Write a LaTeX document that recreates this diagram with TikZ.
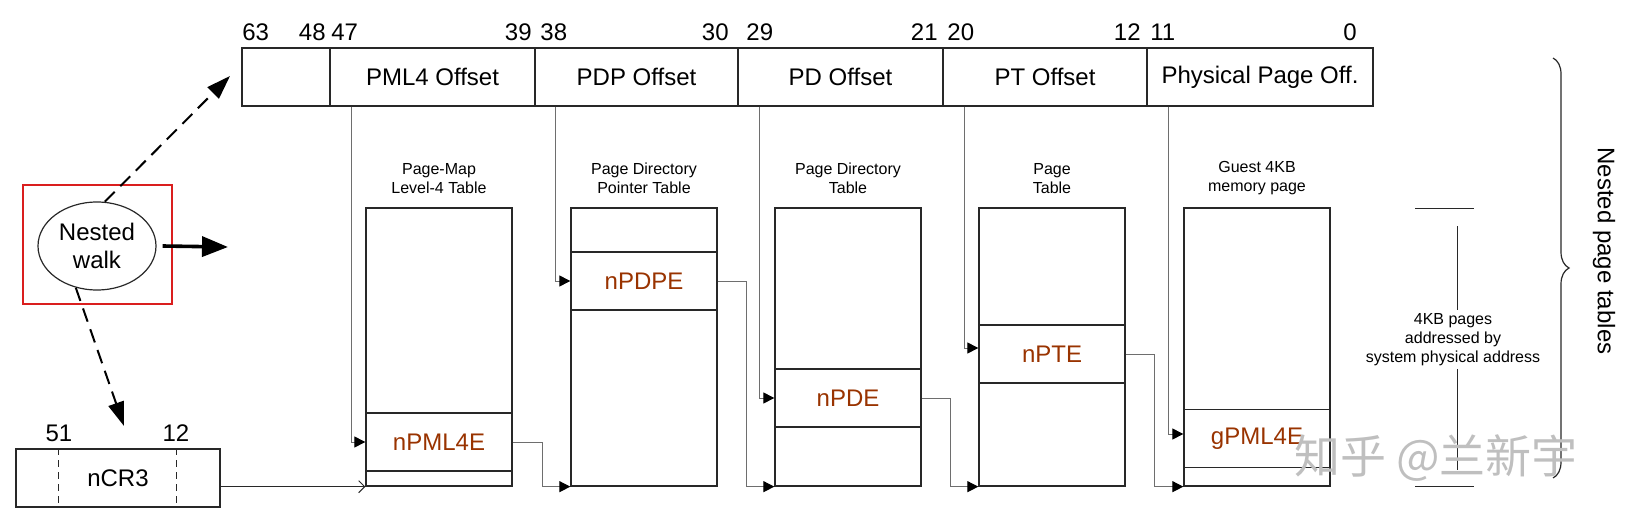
\documentclass[tikz,border=0pt]{standalone}
\usepackage{fontspec}
\setmainfont{Liberation Sans}
\newfontfamily\cjkfont{Noto Sans CJK SC}
\usetikzlibrary{arrows.meta,shapes.geometric,decorations.pathreplacing}
\definecolor{entrybrown}{RGB}{153,51,0}
\definecolor{boxline}{RGB}{40,40,40}
\definecolor{connline}{RGB}{110,110,110}
\definecolor{walkred}{RGB}{218,30,30}
\begin{document}
\begin{tikzpicture}[x=0.5pt,y=-0.5pt,
  bigfont/.style={font=\fontsize{12}{14}\selectfont},
  field/.style={draw=boxline, line width=0.65pt, minimum height=29pt, inner sep=0pt, bigfont},
  bitnum/.style={inner sep=0pt, bigfont},
  tablebox/.style={draw=boxline, line width=0.65pt, minimum width=73pt, minimum height=139pt, inner sep=0pt},
  entry/.style={draw=boxline, line width=0.65pt, minimum width=73pt, minimum height=29pt, inner sep=0pt, text=entrybrown, bigfont},
  tlabel/.style={align=center, inner sep=0pt, font=\fontsize{8}{9.5}\selectfont},
  conn/.style={draw=connline, line width=0.5pt, -{Triangle[length=5.5pt,width=5.5pt,color=black]}},
  walkarrow/.style={draw=black, line width=1pt, dash pattern=on 7pt off 4pt, -{Triangle[length=12pt,width=8pt]}},
  dimline/.style={draw=boxline, line width=0.5pt}
]
\useasboundingbox (0,0) rectangle (1628,524);

% virtual address fields
\node[field, minimum width=44pt]    (f0) at (286,77) {};
\node[field, minimum width=102.5pt] (f1) at (432.5,77) {PML4 Offset};
\node[field, minimum width=101.5pt] (f2) at (636.5,77) {PDP Offset};
\node[field, minimum width=102.5pt] (f3) at (840.5,77) {PD Offset};
\node[field, minimum width=102pt]   (f4) at (1045,77) {PT Offset};
\node[field, minimum width=113pt]   (f5) at (1260,77) {Physical Page Off.};

% bit numbers
\node[bitnum, anchor=west] (b63) at (242,32) {63};
\node[bitnum, anchor=east] (b48) at (326,32) {48};
\node[bitnum, anchor=west] (b47) at (331,32) {47};
\node[bitnum, anchor=east] (b39) at (532,32) {39};
\node[bitnum, anchor=west] (b38) at (540,32) {38};
\node[bitnum, anchor=east] (b30) at (729,32) {30};
\node[bitnum, anchor=west] (b29) at (746,32) {29};
\node[bitnum, anchor=east] (b21) at (938,32) {21};
\node[bitnum, anchor=west] (b20) at (947,32) {20};
\node[bitnum, anchor=east] (b12) at (1141,32) {12};
\node[bitnum, anchor=west] (b11) at (1150,32) {11};
\node[bitnum, anchor=east] (b0)  at (1357,32) {0};

% tables
\node[tablebox] (t1) at (439,347) {};
\node[tablebox] (t2) at (644,347) {};
\node[tablebox] (t3) at (848,347) {};
\node[tablebox] (t4) at (1052,347) {};
\node[tablebox] (t5) at (1257,347) {};

\node[tlabel] (l1) at (439,178.5)  {Page-Map\\Level-4 Table};
\node[tlabel] (l2) at (644,178.5)  {Page Directory\\Pointer Table};
\node[tlabel] (l3) at (848,178.5)  {Page Directory\\Table};
\node[tlabel] (l4) at (1052,178.5) {Page\\Table};
\node[tlabel] (l5) at (1257,178.5) {Guest 4KB\\memory page};

% entries
\node[entry] (e1) at (439,442)    {nPML4E};
\node[entry] (e2) at (644,281)    {nPDPE};
\node[entry] (e3) at (848,398)    {nPDE};
\node[entry] (e4) at (1052,354)   {nPTE};
\node[entry] (e5) at (1257,438.5) {gPML4E};

% offset connectors
\draw[conn] ([xshift=11pt]f1.south west) |- (e1.west);
\draw[conn] ([xshift=10.5pt]f2.south west) |- (e2.west);
\draw[conn] ([xshift=11pt]f3.south west) |- (e3.west);
\draw[conn] ([xshift=11pt]f4.south west) |- ([yshift=3pt]e4.west);
\draw[conn] ([xshift=11pt]f5.south west) |- ([yshift=2.25pt]e5.west);

% entry to next table connectors
\draw[conn] (e1.east) -- ++(15pt,0) |- (t2.south west);
\draw[conn] (e2.east) -- ++(14.5pt,0) |- (t3.south west);
\draw[conn] (e3.east) -- ++(14.5pt,0) |- (t4.south west);
\draw[conn] (e4.east) -- ++(14.5pt,0) |- (t5.south west);

% nCR3
\node[field, minimum width=102pt] (ncr3) at (118,478) {nCR3};
\draw[boxline, line width=0.5pt, dash pattern=on 3.5pt off 2.5pt] ([xshift=21.8pt]ncr3.north west) -- ([xshift=21.8pt]ncr3.south west);
\draw[boxline, line width=0.5pt, dash pattern=on 3.5pt off 2.5pt] ([xshift=80.4pt]ncr3.north west) -- ([xshift=80.4pt]ncr3.south west);
\node[bitnum] (c51) at (59,433) {51};
\node[bitnum] (c12) at (176,433) {12};
\draw[boxline, line width=0.5pt, -{Straight Barb[length=3pt,width=6pt]}] (ncr3.east |- t1.south west) -- (t1.south west);

% nested walk
\node[draw=walkred, line width=1pt, minimum width=74.5pt, minimum height=59.5pt, inner sep=0pt] (redbox) at (97.5,244.5) {};
\node[ellipse, draw=boxline, line width=0.6pt, minimum width=59pt, minimum height=44pt, inner sep=0pt, align=center, bigfont] (nw) at (97,246) {Nested\\walk};
\coordinate (tipA) at (230,76);
\coordinate (tipB) at (124,426);
\coordinate (tipC) at (228,247);
\draw[walkarrow] (nw.80) -- (tipA);
\draw[walkarrow] (nw.243) -- (tipB);
\draw[line width=1.8pt, -{Triangle[length=13pt,width=10pt]}] ([xshift=3pt]nw.east) -- (tipC);

% dimension on the right
\coordinate (dtl) at (1415,208); \coordinate (dtr) at (1474,208);
\coordinate (dbl) at (1415,486); \coordinate (dbr) at (1474,486);
\coordinate (dvt) at (1457.5,226); \coordinate (dvb) at (1457.5,470);
\draw[dimline] (dtl) -- (dtr);
\draw[dimline] (dbl) -- (dbr);
\draw[dimline] (dvt) -- (dvb);
\node[tlabel, fill=white, inner sep=1.5pt] (dimtext) at (1453,339.5) {4KB pages\\addressed by\\system physical address};

% brace
\coordinate (brt) at (1553,58);
\coordinate (brb) at (1553,478);
\draw[boxline, line width=0.6pt, decorate, decoration={brace, amplitude=8pt}] (brt) -- (brb);
\node[rotate=-90, bigfont, inner sep=0pt] (npt) at (1604,251) {Nested page tables};

% watermark
\node[text=gray!50, font=\cjkfont\fontsize{23}{27}\selectfont, inner sep=0pt] (wm) at (1436,458) {知乎 @兰新宇};
\end{tikzpicture}
\end{document}
